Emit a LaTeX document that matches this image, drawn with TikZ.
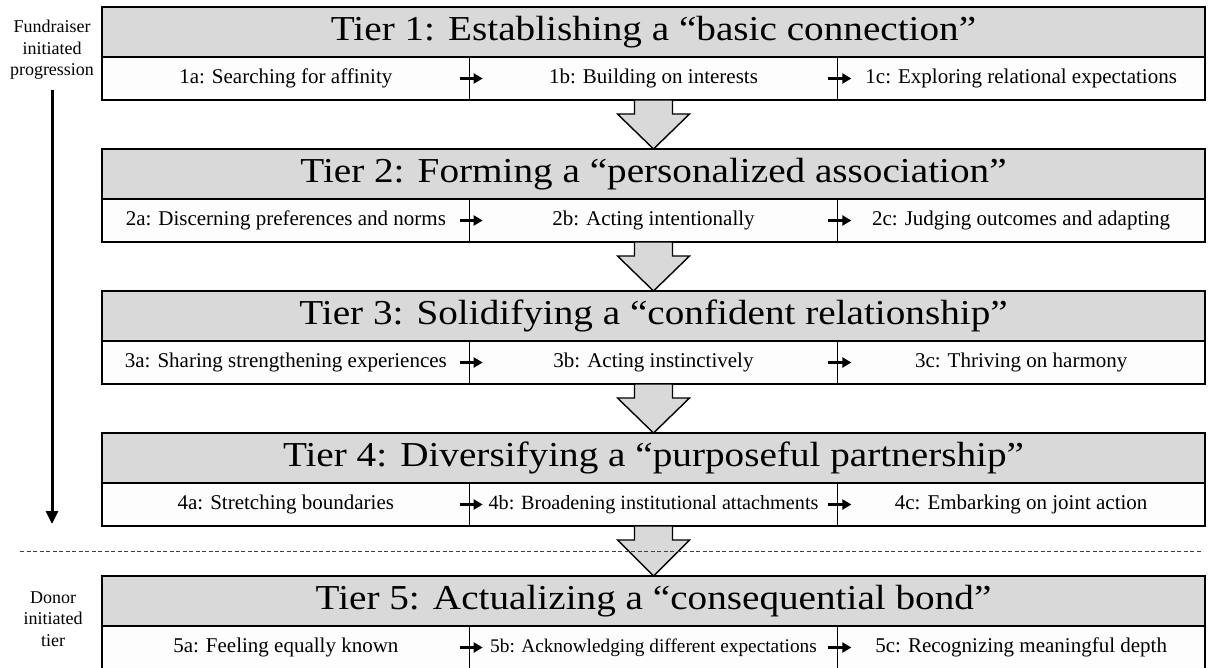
\documentclass[tikz,border=0pt]{standalone}
\usepackage{fontspec}
\setmainfont{Liberation Serif}
\newfontfamily\hdrfont[FakeStretch=1.12]{Liberation Serif}
\usetikzlibrary{arrows.meta,calc}
\definecolor{hdrgray}{HTML}{D9D9D9}
\definecolor{subwhite}{HTML}{FDFDFD}
\newcommand{\tierrow}[6]{%
  \node[hdr] (h#1) at (102,#2) {#3};
  \node[subbox] (s#1a) at (102,{#2+50}) {#4};
  \node[subbox] (s#1b) at (469.67,{#2+50}) {#5};
  \node[subbox] (s#1c) at (837.33,{#2+50}) {#6};
  \draw[smallarr] ([xshift=-10pt]s#1a.east) -- ([xshift=13pt]s#1a.east);
  \draw[smallarr] ([xshift=-9pt]s#1b.east) -- ([xshift=14pt]s#1b.east);
}
\newcommand{\tierarrow}[2]{%
  \draw[bigarr] let \p1=(#1.south), \p2=(#2.north) in
    (\x1-19pt,\y1) -- (\x1-19pt,\y1-14pt) -- (\x1-36pt,\y1-14pt) -- (\x1,\y2)
    -- (\x1+36pt,\y1-14pt) -- (\x1+19pt,\y1-14pt) -- (\x1+19pt,\y1) -- cycle;
}
\newcommand{\smalltxt}[2]{{\fontsize{#1}{23}\selectfont #2}}
\begin{document}
\begin{tikzpicture}[x=1pt,y=-1pt,
  hdr/.style={draw, line width=1.6pt, fill=hdrgray, minimum width=1103pt,
    minimum height=50pt, inner sep=0pt, outer sep=0pt, anchor=north west,
    font=\hdrfont\fontsize{35}{40}\selectfont},
  subbox/.style={draw, line width=1.6pt, fill=subwhite, minimum width=367.67pt,
    minimum height=43pt, inner sep=0pt, outer sep=0pt, anchor=north west,
    font=\fontsize{21}{25}\selectfont},
  smallarr/.style={line width=2.6pt, -{Triangle[length=9pt,width=10pt]}},
  bigarr/.style={draw, line width=1.4pt, fill=hdrgray, line join=miter},
  lbl/.style={align=center, inner sep=0pt, font=\fontsize{18}{21.5}\selectfont},
  longarr/.style={line width=3pt, -{Triangle[length=13pt,width=12pt]}},
  divider/.style={dashed, dash pattern=on 4pt off 2.5pt, line width=0.8pt, black!75}]
\useasboundingbox (0,0) rectangle (1214,668);
\fill[white] (0,0) rectangle (1214,668);

\tierrow{1}{7}{Tier 1: Establishing a “basic connection”}{1a: Searching for affinity}{1b: Building on interests}{1c: Exploring relational expectations}
\tierrow{2}{149}{Tier 2: Forming a “personalized association”}{2a: Discerning preferences and norms}{2b: Acting intentionally}{2c: Judging outcomes and adapting}
\tierrow{3}{291}{Tier 3: Solidifying a “confident relationship”}{3a: Sharing strengthening experiences}{3b: Acting instinctively}{3c: Thriving on harmony}
\tierrow{4}{433}{Tier 4: Diversifying a “purposeful partnership”}{4a: Stretching boundaries}{\smalltxt{20.2}{4b: Broadening institutional attachments}}{4c: Embarking on joint action}
\tierrow{5}{576}{Tier 5: Actualizing a “consequential bond”}{5a: Feeling equally known}{\smalltxt{19.3}{5b: Acknowledging different expectations}}{5c: Recognizing meaningful depth}

\tierarrow{s1b}{h2}
\tierarrow{s2b}{h3}
\tierarrow{s3b}{h4}
\tierarrow{s4b}{h5}

\coordinate (dl) at (20,551);
\coordinate (dr) at (1203,551);
\draw[divider] (dl) -- (dr);

\node[lbl] (fund) at (52,50) {Fundraiser\\initiated\\progression};
\coordinate (fa) at (52,90);
\coordinate (fb) at (52,524);
\draw[longarr] (fa) -- (fb);

\node[lbl] (donor) at (53,619) {Donor\\initiated\\tier};
\end{tikzpicture}
\end{document}
